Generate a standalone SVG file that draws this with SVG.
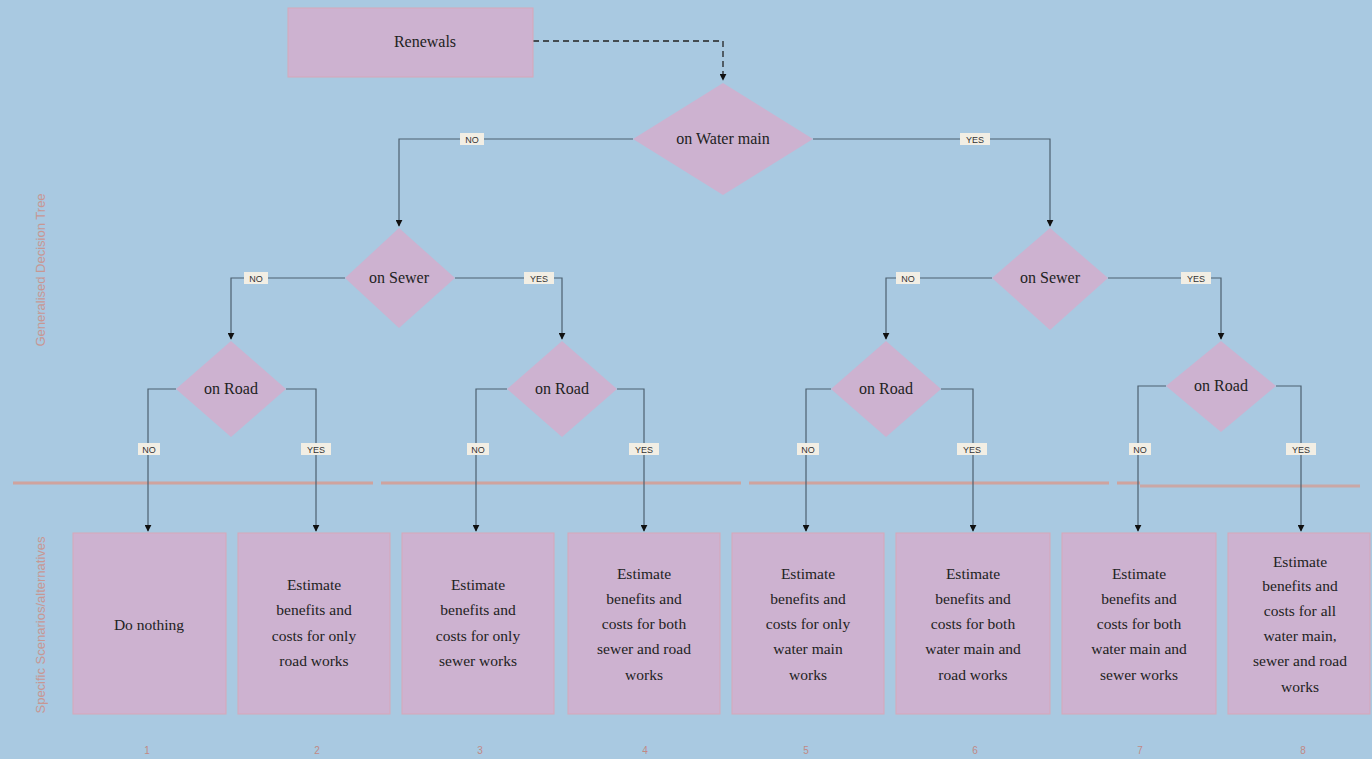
<svg xmlns="http://www.w3.org/2000/svg" width="1372" height="759" viewBox="0 0 1372 759">
<defs>
<marker id="arr" viewBox="0 0 10 10" refX="9" refY="5" markerWidth="7" markerHeight="7" orient="auto" markerUnits="userSpaceOnUse">
<path d="M0,0 L10,5 L0,10 z" fill="#111"/>
</marker>
<style>
.node{fill:#cdb2d0;stroke:#d7a7b8;stroke-width:1}
.dia{fill:#cdb2d0;stroke:none}
.t{font-family:"Liberation Serif",serif;font-size:15.5px;fill:#222;text-anchor:middle}
.tt{font-family:"Liberation Serif",serif;font-size:16px;fill:#222;text-anchor:middle}
.ln{fill:none;stroke:#4d6070;stroke-width:1.2}
.lb{fill:#f2eee4}
.lt{font-family:"Liberation Sans",sans-serif;font-size:9px;fill:#333;text-anchor:middle}
.side{font-family:"Liberation Sans",sans-serif;font-size:13px;fill:#d2877a;text-anchor:middle;opacity:0.75}
.num{font-family:"Liberation Sans",sans-serif;font-size:10px;fill:#c77a6e;text-anchor:middle;opacity:0.8}
</style>
</defs>
<rect width="1372" height="759" fill="#a9c9e1"/>

<!-- separator -->
<line x1="13" y1="483" x2="1140" y2="483" stroke="#d99a8e" stroke-width="3" stroke-dasharray="360 8" opacity="0.8"/>
<line x1="1140" y1="486" x2="1360" y2="486" stroke="#d99a8e" stroke-width="3" opacity="0.7"/>

<!-- side texts -->
<text class="side" transform="translate(45,270) rotate(-90)">Generalised Decision Tree</text>
<text class="side" transform="translate(45,625) rotate(-90)">Specific Scenarios/alternatives</text>

<g id="connectors">
<path d="M533,41 H723 V80" fill="none" stroke="#222" stroke-width="1.3" stroke-dasharray="6 4" marker-end="url(#arr)"/>
<path class="ln" d="M633,139 H399 V226" marker-end="url(#arr)"/>
<path class="ln" d="M813,139 H1050 V226" marker-end="url(#arr)"/>
<path class="ln" d="M345,278 H231 V339" marker-end="url(#arr)"/>
<path class="ln" d="M455,278 H562 V339" marker-end="url(#arr)"/>
<path class="ln" d="M992,278 H886 V339" marker-end="url(#arr)"/>
<path class="ln" d="M1108,278 H1221 V339" marker-end="url(#arr)"/>
<path class="ln" d="M176,389 H148 V531" marker-end="url(#arr)"/>
<path class="ln" d="M286,389 H316 V531" marker-end="url(#arr)"/>
<path class="ln" d="M507,389 H476 V531" marker-end="url(#arr)"/>
<path class="ln" d="M617,389 H644 V531" marker-end="url(#arr)"/>
<path class="ln" d="M831,389 H806 V531" marker-end="url(#arr)"/>
<path class="ln" d="M941,389 H973 V531" marker-end="url(#arr)"/>
<path class="ln" d="M1166,386 H1138 V531" marker-end="url(#arr)"/>
<path class="ln" d="M1276,386 H1301 V531" marker-end="url(#arr)"/>
<g>
<rect class="lb" x="460" y="133" width="24" height="12"/><text class="lt" x="472" y="142.5">NO</text>
<rect class="lb" x="960" y="133" width="30" height="12"/><text class="lt" x="975" y="142.5">YES</text>
<rect class="lb" x="244" y="272" width="24" height="12"/><text class="lt" x="256" y="281.5">NO</text>
<rect class="lb" x="524" y="272" width="30" height="12"/><text class="lt" x="539" y="281.5">YES</text>
<rect class="lb" x="896" y="272" width="24" height="12"/><text class="lt" x="908" y="281.5">NO</text>
<rect class="lb" x="1181" y="272" width="30" height="12"/><text class="lt" x="1196" y="281.5">YES</text>
<rect class="lb" x="138" y="443" width="22" height="12"/><text class="lt" x="149" y="452.5">NO</text>
<rect class="lb" x="301" y="443" width="30" height="12"/><text class="lt" x="316" y="452.5">YES</text>
<rect class="lb" x="467" y="443" width="22" height="12"/><text class="lt" x="478" y="452.5">NO</text>
<rect class="lb" x="629" y="443" width="30" height="12"/><text class="lt" x="644" y="452.5">YES</text>
<rect class="lb" x="797" y="443" width="22" height="12"/><text class="lt" x="808" y="452.5">NO</text>
<rect class="lb" x="957" y="443" width="30" height="12"/><text class="lt" x="972" y="452.5">YES</text>
<rect class="lb" x="1129" y="443" width="22" height="12"/><text class="lt" x="1140" y="452.5">NO</text>
<rect class="lb" x="1286" y="443" width="30" height="12"/><text class="lt" x="1301" y="452.5">YES</text>
</g>
</g>

<g id="renewals"><rect class="node" x="288" y="8" width="245" height="69"/><text class="tt" x="425" y="47">Renewals</text></g>

<g id="water"><polygon class="dia" points="723,83 813,139 723,195 633,139"/><text class="tt" x="723" y="144">on Water main</text></g>
<g id="sewer1"><polygon class="dia" points="399,228 455,278 399,328 345,278"/><text class="tt" x="399" y="283">on Sewer</text></g>
<g id="sewer2"><polygon class="dia" points="1050,228 1108,278 1050,330 992,278"/><text class="tt" x="1050" y="283">on Sewer</text></g>
<g id="road1"><polygon class="dia" points="231,341 286,389 231,437 176,389"/><text class="tt" x="231" y="394">on Road</text></g>
<g id="road2"><polygon class="dia" points="562,341 617,389 562,437 507,389"/><text class="tt" x="562" y="394">on Road</text></g>
<g id="road3"><polygon class="dia" points="886,341 941,389 886,437 831,389"/><text class="tt" x="886" y="394">on Road</text></g>
<g id="road4"><polygon class="dia" points="1221,341 1276,386 1221,432 1166,386"/><text class="tt" x="1221" y="391">on Road</text></g>

<g id="box1"><rect class="node" x="73" y="533" width="153" height="181"/><text class="t" x="149" y="630">Do nothing</text></g>
<g id="box2"><rect class="node" x="238" y="533" width="152" height="181"/><text class="t" x="314"><tspan x="314" y="590">Estimate</tspan><tspan x="314" y="615">benefits and</tspan><tspan x="314" y="641">costs for only</tspan><tspan x="314" y="666">road works</tspan></text></g>
<g id="box3"><rect class="node" x="402" y="533" width="152" height="181"/><text class="t" x="478"><tspan x="478" y="590">Estimate</tspan><tspan x="478" y="615">benefits and</tspan><tspan x="478" y="641">costs for only</tspan><tspan x="478" y="666">sewer works</tspan></text></g>
<g id="box4"><rect class="node" x="568" y="533" width="152" height="181"/><text class="t" x="644"><tspan x="644" y="579">Estimate</tspan><tspan x="644" y="604">benefits and</tspan><tspan x="644" y="629">costs for both</tspan><tspan x="644" y="654">sewer and road</tspan><tspan x="644" y="680">works</tspan></text></g>
<g id="box5"><rect class="node" x="732" y="533" width="152" height="181"/><text class="t" x="808"><tspan x="808" y="579">Estimate</tspan><tspan x="808" y="604">benefits and</tspan><tspan x="808" y="629">costs for only</tspan><tspan x="808" y="654">water main</tspan><tspan x="808" y="680">works</tspan></text></g>
<g id="box6"><rect class="node" x="896" y="533" width="154" height="181"/><text class="t" x="973"><tspan x="973" y="579">Estimate</tspan><tspan x="973" y="604">benefits and</tspan><tspan x="973" y="629">costs for both</tspan><tspan x="973" y="654">water main and</tspan><tspan x="973" y="680">road works</tspan></text></g>
<g id="box7"><rect class="node" x="1062" y="533" width="154" height="181"/><text class="t" x="1139"><tspan x="1139" y="579">Estimate</tspan><tspan x="1139" y="604">benefits and</tspan><tspan x="1139" y="629">costs for both</tspan><tspan x="1139" y="654">water main and</tspan><tspan x="1139" y="680">sewer works</tspan></text></g>
<g id="box8"><rect class="node" x="1228" y="533" width="142" height="181"/><text class="t" x="1300"><tspan x="1300" y="567">Estimate</tspan><tspan x="1300" y="591">benefits and</tspan><tspan x="1300" y="616">costs for all</tspan><tspan x="1300" y="641">water main,</tspan><tspan x="1300" y="666">sewer and road</tspan><tspan x="1300" y="692">works</tspan></text></g>

<g id="numbers">
<text class="num" x="147" y="754">1</text><text class="num" x="317" y="754">2</text><text class="num" x="480" y="754">3</text><text class="num" x="645" y="754">4</text>
<text class="num" x="806" y="754">5</text><text class="num" x="975" y="754">6</text><text class="num" x="1140" y="754">7</text><text class="num" x="1303" y="754">8</text>
</g>
</svg>
